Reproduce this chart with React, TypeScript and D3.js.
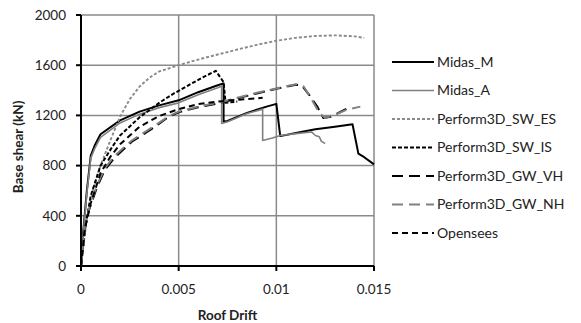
import React from 'react';
import * as d3 from 'd3';

// pushover curves: [roof drift, base shear kN]
const midasM = [
  [0, 0], [0.0001, 250], [0.0003, 600], [0.0005, 880], [0.0007, 960], [0.001, 1050],
  [0.002, 1160], [0.003, 1230], [0.004, 1280], [0.005, 1320], [0.006, 1385], [0.007, 1440],
  [0.0073, 1455], [0.0073, 1150], [0.0075, 1155], [0.0085, 1220], [0.0095, 1270], [0.01, 1292],
  [0.0102, 1035], [0.011, 1060], [0.012, 1090], [0.013, 1110], [0.0139, 1130], [0.0142, 895],
  [0.0145, 867], [0.015, 810],
];
const midasA = [
  [0, 0], [0.0001, 230], [0.0003, 580], [0.0005, 860], [0.0007, 935], [0.001, 1025],
  [0.002, 1140], [0.003, 1210], [0.004, 1262], [0.005, 1300], [0.006, 1365], [0.007, 1420],
  [0.0072, 1435], [0.0072, 1135], [0.0075, 1150], [0.0085, 1215], [0.0093, 1250], [0.0093, 1000],
  [0.0098, 1020], [0.0102, 1040], [0.011, 1055], [0.0118, 1068], [0.012, 1040], [0.0122, 1030],
  [0.0123, 995], [0.0125, 975],
];
const sw_es = [
  [0, 0], [0.0003, 380], [0.0006, 600], [0.001, 800], [0.0015, 1000], [0.002, 1190],
  [0.0025, 1330], [0.003, 1430], [0.0035, 1500], [0.004, 1550], [0.005, 1600], [0.006, 1645],
  [0.007, 1685], [0.008, 1725], [0.009, 1762], [0.01, 1795], [0.011, 1818], [0.012, 1833],
  [0.013, 1838], [0.014, 1830], [0.0145, 1818],
];
const sw_is = [
  [0, 0], [0.0002, 290], [0.0005, 560], [0.001, 800], [0.0016, 950], [0.002, 1040],
  [0.003, 1185], [0.004, 1300], [0.0047, 1370], [0.0055, 1440], [0.0062, 1500], [0.0069, 1555],
  [0.0073, 1465], [0.0074, 1300], [0.008, 1310],
];
const gw_vh = [
  [0, 0], [0.0002, 300], [0.0004, 440], [0.0008, 620], [0.0012, 760], [0.0017, 860],
  [0.0026, 990], [0.0037, 1100], [0.0045, 1190], [0.005, 1225], [0.006, 1265], [0.007, 1295],
  [0.008, 1335], [0.009, 1375], [0.01, 1412], [0.011, 1445], [0.0113, 1440], [0.0117, 1360],
  [0.0121, 1270], [0.0124, 1180], [0.0128, 1190], [0.0133, 1230], [0.0137, 1260],
];
const gw_nh = [
  [0, 0], [0.0002, 310], [0.0004, 450], [0.0008, 635], [0.0012, 775], [0.0017, 875],
  [0.0026, 1000], [0.0037, 1110], [0.0045, 1195], [0.005, 1230], [0.006, 1270], [0.007, 1300],
  [0.008, 1340], [0.009, 1380], [0.01, 1415], [0.011, 1448], [0.0114, 1430], [0.0118, 1330],
  [0.0122, 1220], [0.0125, 1180], [0.013, 1205], [0.0136, 1245], [0.0143, 1270],
];
const opensees = [
  [0, 0], [0.0002, 300], [0.0005, 500], [0.001, 740], [0.0015, 870], [0.002, 970],
  [0.003, 1110], [0.004, 1195], [0.005, 1250], [0.006, 1290], [0.007, 1310], [0.008, 1325],
  [0.009, 1335], [0.0093, 1340],
];

const series = [
  { name: 'Midas_M', data: midasM, color: '#000', width: 2, dash: null },
  { name: 'Midas_A', data: midasA, color: '#808080', width: 1.6, dash: null },
  { name: 'Perform3D_SW_ES', data: sw_es, color: '#8a8a8a', width: 1.9, dash: '3,2' },
  { name: 'Perform3D_SW_IS', data: sw_is, color: '#000', width: 2, dash: '4,2' },
  { name: 'Perform3D_GW_VH', data: gw_vh, color: '#000', width: 2, dash: '11,6' },
  { name: 'Perform3D_GW_NH', data: gw_nh, color: '#808080', width: 2, dash: '11,6' },
  { name: 'Opensees', data: opensees, color: '#000', width: 2, dash: '6,4' },
];

const xTicks = [0, 0.005, 0.01, 0.015];
const yTicks = [0, 400, 800, 1200, 1600, 2000];

const App = () => {
  const width = 581;
  const height = 323;
  const margin = { top: 15, right: 207, bottom: 57, left: 81 };
  const font = 'Lato, "Open Sans", sans-serif';

  const xScale = d3
    .scaleLinear()
    .domain([0, 0.015])
    .range([margin.left, width - margin.right]);
  const yScale = d3
    .scaleLinear()
    .domain([0, 2000])
    .range([height - margin.bottom, margin.top]);

  const lineGenerator = d3
    .line()
    .x(d => xScale(d[0]))
    .y(d => yScale(d[1]));

  const x0 = xScale(0);
  const y0 = yScale(0);

  return (
    <svg
      width={width}
      height={height}
      viewBox={`0 0 ${width} ${height}`}
      style={{ position: 'absolute', left: 0, top: 0, background: '#fff' }}
    >
      {/* grid */}
      {yTicks.filter(t => t > 0).map(t => (
        <line key={`gy-${t}`} x1={x0} x2={xScale(0.015)} y1={yScale(t)} y2={yScale(t)}
          stroke='#8a8a8a' strokeWidth='1.5' />
      ))}
      {xTicks.filter(t => t > 0).map(t => (
        <line key={`gx-${t}`} x1={xScale(t)} x2={xScale(t)} y1={yScale(2000)} y2={y0}
          stroke='#8a8a8a' strokeWidth='1.5' />
      ))}

      {series.map(s => (
        <path key={s.name} d={lineGenerator(s.data)} fill='none' stroke={s.color}
          strokeWidth={s.width} strokeDasharray={s.dash || undefined} strokeLinejoin='round' />
      ))}

      {/* axes */}
      <line x1={x0} x2={x0} y1={yScale(2000)} y2={y0} stroke='#000' strokeWidth='2' />
      <line x1={x0} x2={xScale(0.015)} y1={y0} y2={y0} stroke='#000' strokeWidth='2' />
      {yTicks.map(t => (
        <g key={`yt-${t}`}>
          <line x1={x0 - 5} x2={x0} y1={yScale(t)} y2={yScale(t)} stroke='#000' strokeWidth='2' />
          <text x={x0 - 15} y={yScale(t)} dy='0.35em' textAnchor='end' fontFamily={font}
            fontSize='13.5' fill='#222'>{t}</text>
        </g>
      ))}
      {xTicks.map(t => (
        <g key={`xt-${t}`}>
          <line x1={xScale(t)} x2={xScale(t)} y1={y0} y2={y0 + 5} stroke='#000' strokeWidth='2' />
          <text x={xScale(t)} y={y0 + 23} dy='0.35em' textAnchor='middle' fontFamily={font}
            fontSize='13.5' fill='#222'>{t}</text>
        </g>
      ))}
      <text x={(x0 + xScale(0.015)) / 2} y={315} dy='0.35em' textAnchor='middle'
        fontFamily={font} fontSize='13.5' fontWeight='bold' fill='#222'>Roof Drift</text>
      <text transform={`translate(18, ${147}) rotate(-90)`} dy='0.35em' textAnchor='middle'
        fontFamily={font} fontSize='13.5' fontWeight='bold' fill='#222'>Base shear (kN)</text>

      {/* legend */}
      {series.map((s, i) => (
        <g key={`lg-${s.name}`} transform={`translate(392, ${62 + i * 28.5})`}>
          <line x1={0} x2={42} y1={0} y2={0} stroke={s.color} strokeWidth={s.width}
            strokeDasharray={s.dash || undefined} />
          <text x={45} y={0} dy='0.35em' fontFamily={font} fontSize='14' fill='#222'>{s.name}</text>
        </g>
      ))}
    </svg>
  );
};

export default App;
